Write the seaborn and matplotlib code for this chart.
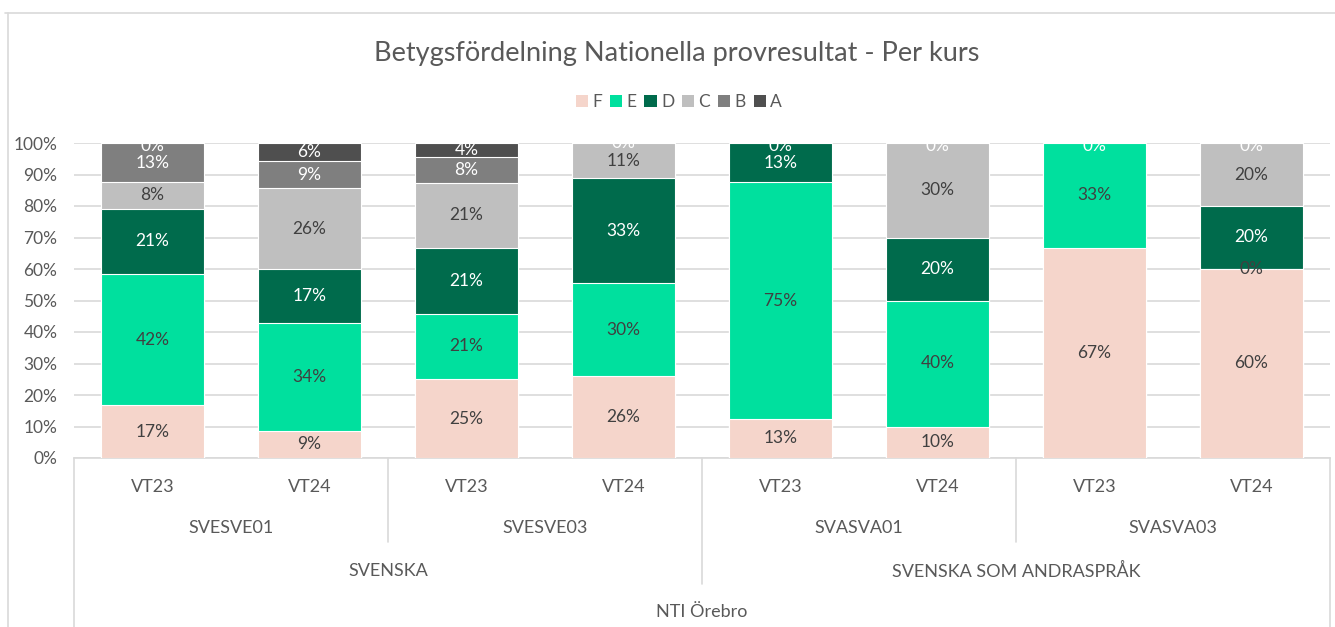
import numpy as np
import pandas as pd
import matplotlib
matplotlib.use("Agg")
import matplotlib.pyplot as plt
import matplotlib.transforms as mtransforms
from matplotlib.patches import Patch
from matplotlib.lines import Line2D
import seaborn as sns

# ---------------- data ----------------
title = "Betygsfördelning Nationella provresultat - Per kurs"
periods = ["VT23", "VT24", "VT23", "VT24", "VT23", "VT24", "VT23", "VT24"]
courses = ["SVESVE01", "SVESVE03", "SVASVA01", "SVASVA03"]
subjects = ["SVENSKA", "SVENSKA SOM ANDRASPRÅK"]
school = "NTI Örebro"
grades = ["F", "E", "D", "C", "B", "A"]
nan = np.nan
F = [16.7, 8.6, 25.0, 25.9, 12.5, 10.0, 66.7, 60.0]
E = [41.7, 34.3, 20.8, 29.6, 75.0, 40.0, 33.3, 0.0]
D = [20.8, 17.1, 20.8, 33.3, 12.5, 20.0, nan, 20.0]
C = [8.3, 25.7, 20.8, 11.1, nan, 30.0, nan, 20.0]
B = [12.5, 8.6, 8.3, nan, nan, nan, nan, nan]
A = [0.0, 5.7, 4.2, 0.0, 0.0, 0.0, 0.0, 0.0]

colors = {"F": "#F5D5CB", "E": "#00E09E", "D": "#006B4C",
          "C": "#BFBFBF", "B": "#7F7F7F", "A": "#4F4F4F"}
label_colors = {"F": "#404040", "E": "#404040", "D": "white",
                "C": "#404040", "B": "white", "A": "white"}

# ---------------- figure ----------------
sns.set_theme(style="white")
plt.rcParams["font.family"] = ["Lato", "DejaVu Sans"]
TXT = "#595959"

W, H = 1335, 627
fig = plt.figure(figsize=(W / 100, H / 100), dpi=100)
ax_left, ax_right, ax_top, ax_bot = 74, 1330, 143, 458
ax = fig.add_axes([ax_left / W, 1 - ax_bot / H, (ax_right - ax_left) / W, (ax_bot - ax_top) / H])

bar_ids = [f"{courses[i // 2]} {periods[i]}" for i in range(len(periods))]
vals = {"F": F, "E": E, "D": D, "C": C, "B": B, "A": A}
mat = np.array([vals[g] for g in grades], dtype=float)  # grades x bars
cum = np.nancumsum(mat, axis=0)
rows = []
for gi, g in enumerate(grades):
    for bi, b in enumerate(bar_ids):
        rows.append({"bar": b, "grade": g, "top": cum[gi, bi]})
df = pd.DataFrame(rows)

for g in reversed(grades):
    sns.barplot(data=df[df["grade"] == g], x="bar", y="top", order=bar_ids,
                color=colors[g], saturation=1, width=0.66, errorbar=None,
                edgecolor="white", linewidth=0.8, ax=ax, zorder=3)

# segment labels
for gi, g in enumerate(grades):
    for bi in range(len(bar_ids)):
        v = mat[gi, bi]
        if np.isnan(v):
            continue
        top = cum[gi, bi]
        yy = top - v / 2
        if v == 0 and top >= 99.9:
            yy = 99.2
        ax.text(bi, yy, f"{int(np.floor(v + 0.5))}%", ha="center", va="center",
                fontsize=12.5, color=label_colors[g], zorder=5)

ax.set_xlim(-0.5, len(bar_ids) - 0.5)
ax.set_ylim(0, 100)
ax.set_yticks(np.arange(0, 101, 10))
ax.set_yticklabels([f"{t}%" for t in range(0, 101, 10)], fontsize=12.5, color=TXT)
ax.set_xticks([])
ax.set_xlabel("")
ax.set_ylabel("")
ax.tick_params(axis="y", length=0, pad=12)
ax.grid(axis="y", color="#D9D9D9", linewidth=1.2, zorder=0)
ax.set_axisbelow(True)
for s in ["top", "right", "left"]:
    ax.spines[s].set_visible(False)
ax.spines["bottom"].set_color("#D9D9D9")
ax.spines["bottom"].set_linewidth(1.2)

# multi-level category axis
tr = mtransforms.blended_transform_factory(ax.transData, fig.transFigure)
def fy(px):
    return 1 - px / H

line_kw = dict(color="#D9D9D9", linewidth=1.2, transform=tr, clip_on=False)
for x, y_end in [(-0.5, 627), (1.5, 542), (3.5, 584), (5.5, 542), (7.5, 627)]:
    ax.add_line(Line2D([x, x], [fy(ax_bot), fy(y_end)], **line_kw))

for bi, p in enumerate(periods):
    ax.text(bi, fy(487), p, ha="center", va="center", fontsize=13, color=TXT, transform=tr)
for ci, c in enumerate(courses):
    ax.text(2 * ci + 0.5, fy(528), c, ha="center", va="center", fontsize=13, color=TXT, transform=tr)
for si, s in enumerate(subjects):
    ax.text(4 * si + 1.5, fy(571), s, ha="center", va="center", fontsize=13, color=TXT, transform=tr)
ax.text(3.5, fy(612), school, ha="center", va="center", fontsize=13, color=TXT, transform=tr)

# chart border
fig.add_artist(Line2D([5 / W, 1], [fy(13), fy(13)], color="#D9D9D9", linewidth=1.2, transform=fig.transFigure))
fig.add_artist(Line2D([8 / W, 8 / W], [fy(13), 0], color="#D9D9D9", linewidth=1.2, transform=fig.transFigure))

# title
fig.text(677 / W, fy(53), title, ha="center", va="center", fontsize=19.5, color=TXT)

# legend
handles = [Patch(facecolor=colors[g], edgecolor="none", label=g) for g in grades]
fig.legend(handles=handles, loc="center", bbox_to_anchor=(679 / W, fy(102)), ncol=6,
           frameon=False, fontsize=12.5, handlelength=0.7, handleheight=0.7,
           handletextpad=0.25, columnspacing=0.45, labelcolor=TXT)

fig.savefig("out.png", dpi=100)
